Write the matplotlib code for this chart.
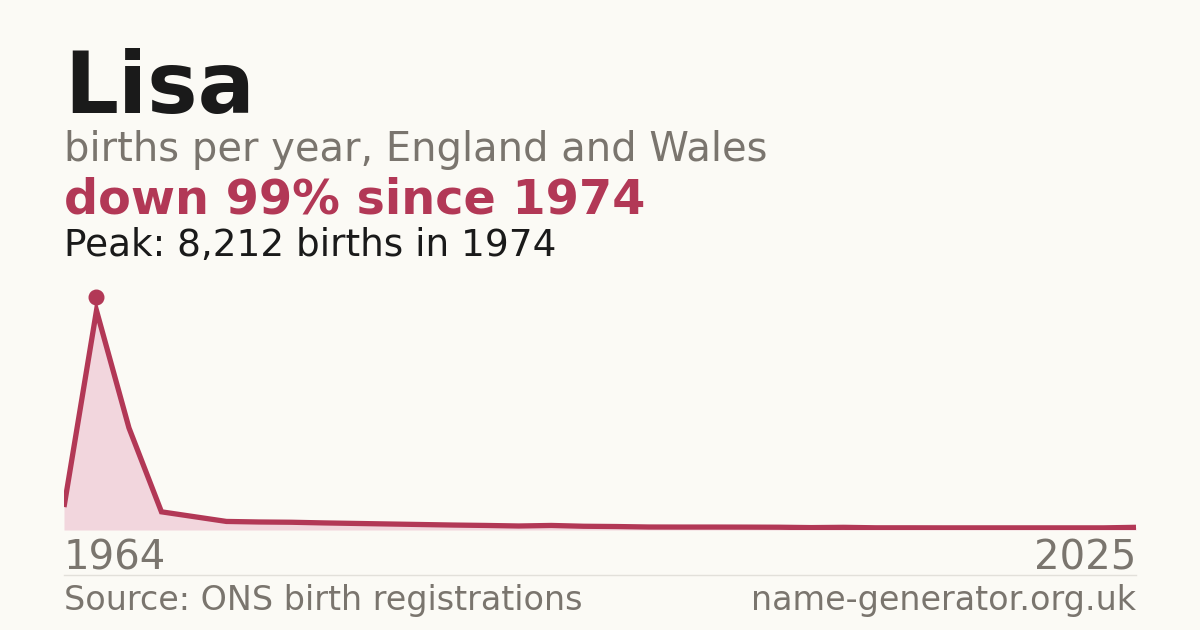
import matplotlib
matplotlib.use("Agg")
import matplotlib.pyplot as plt
import matplotlib.transforms as mtransforms

# ONS data: every 10 years up to 1994, yearly from 1996
years = [1964, 1974, 1984, 1994] + list(range(1996, 2026))
births = [860, 8212, 3820, 680,
          500, 320, 300, 290, 265, 245, 225, 205, 185, 170,
          150, 170, 140, 130, 112, 110, 110, 108, 104, 90,
          100, 82, 82, 80, 80, 80, 80, 80, 80, 100]

name = "Lisa"
subtitle = "births per year, England and Wales"
headline = "down 99% since 1974"
peak_note = "Peak: 8,212 births in 1974"
source = "Source: ONS birth registrations"
site = "name-generator.org.uk"

bg = "#fbfaf5"
red = "#b23856"
pink = "#f2d6dd"
grey = "#7a756e"
dark = "#1a1a1a"

W, H = 1200, 630
fig = plt.figure(figsize=(12, 6.3), dpi=100, facecolor=bg)

def fy(px):
    return 1 - px / H

left, right = 64 / W, 1136 / W
ax = fig.add_axes([left, fy(530), right - left, 240 / H])
ax.set_facecolor(bg)
x = list(range(len(years)))
ax.fill_between(x, births, 0, color=pink, lw=0)
ax.plot(x, births, color=red, lw=3.8, solid_joinstyle="miter", solid_capstyle="butt")
ipk = births.index(max(births))
off = mtransforms.offset_copy(ax.transData, fig=fig, x=0, y=14, units="dots")
ax.plot([ipk], [births[ipk]], "o", ms=10.5, color=red, transform=off, clip_on=False)
ax.set_xlim(0, len(years) - 1)
ax.set_ylim(0, 8980)
ax.axis("off")

fig.text(left, fy(113), name, fontsize=61, fontweight="bold", color=dark, va="baseline")
fig.text(left, fy(161), subtitle, fontsize=28.8, color=grey, va="baseline")
fig.text(left, fy(214), headline, fontsize=34.4, fontweight="bold", color=red, va="baseline")
fig.text(left, fy(256), peak_note, fontsize=26.9, color=dark, va="baseline")

fig.text(left, fy(570), str(years[0]), fontsize=28.9, color=grey, va="baseline")
fig.text(right, fy(570), str(years[-1]), fontsize=28.9, color=grey, va="baseline", ha="right")
fig.add_artist(plt.Line2D([left, right], [fy(574.5)] * 2, color="#e2e0da", lw=1))
fig.text(left, fy(610), source, fontsize=24, color=grey, va="baseline")
fig.text(right, fy(610), site, fontsize=24, color=grey, va="baseline", ha="right")

fig.savefig("out.png", dpi=100, facecolor=bg)
